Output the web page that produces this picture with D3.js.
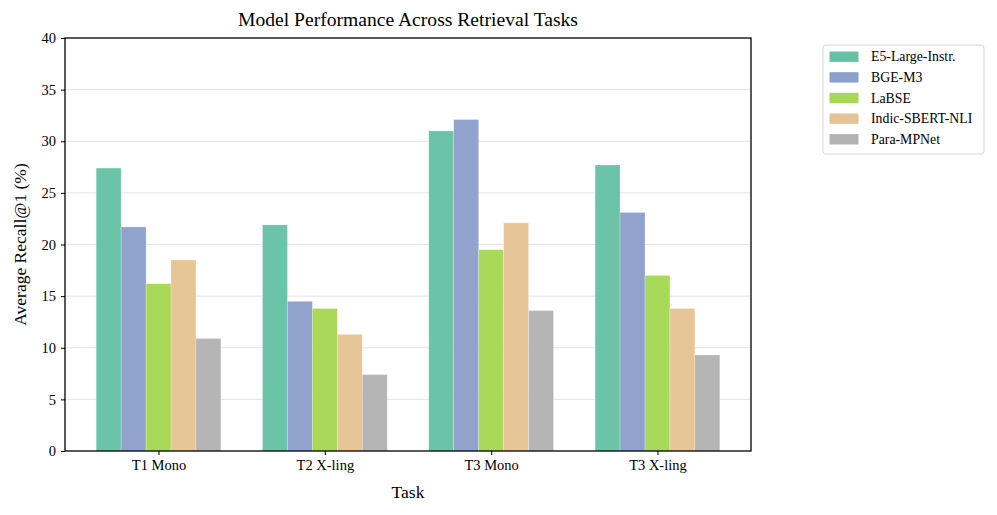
<!DOCTYPE html>
<html lang="en">
<head>
<meta charset="UTF-8" />
<title>Model Performance Across Retrieval Tasks</title>
<script src="https://d3js.org/d3.v7.min.js"></script>
<style>
  body { margin: 0; background: #fff; }
  svg { display: block; font-family: 'Liberation Serif', 'DejaVu Serif', serif; }
  .tick text { font-size: 14.5px; fill: #000; font-family: 'Liberation Serif', serif; }
  .grid line { stroke: #e3e3e3; stroke-width: 1; }
</style>
</head>
<body>
<svg width="997" height="515"></svg>
<script>
const tasks = ["T1 Mono", "T2 X-ling", "T3 Mono", "T3 X-ling"];
const models = ["E5-Large-Instr.", "BGE-M3", "LaBSE", "Indic-SBERT-NLI", "Para-MPNet"];
const colors = ["#66c2a5", "#8da0cb", "#a6d854", "#e5c494", "#b3b3b3"];
const e5 = [27.4, 21.9, 31.0, 27.7];
const bge = [21.7, 14.5, 32.1, 23.1];
const labse = [16.2, 13.8, 19.5, 17.0];
const indic = [18.5, 11.3, 22.1, 13.8];
const mpnet = [10.9, 7.4, 13.6, 9.3];
const yTicks = [0, 5, 10, 15, 20, 25, 30, 35, 40];

const series = [e5, bge, labse, indic, mpnet];
const svg = d3.select("svg");
const m = { left: 65, right: 751, top: 38, bottom: 451 };
const bw = 0.15;

const x = d3.scaleLinear().domain([-0.5625, 3.5625]).range([m.left, m.right]);
const y = d3.scaleLinear().domain([0, 40]).range([m.bottom, m.top]);

// grid
svg.append("g").attr("class", "grid")
  .selectAll("line").data(yTicks.slice(1, -1)).join("line")
  .attr("x1", m.left).attr("x2", m.right)
  .attr("y1", d => y(d)).attr("y2", d => y(d));

// bars
series.forEach((vals, j) => {
  svg.append("g").selectAll("rect").data(vals).join("rect")
    .attr("x", (d, i) => x(i + (j - 2) * bw - bw / 2))
    .attr("width", x(bw) - x(0))
    .attr("y", d => y(d))
    .attr("height", d => y(0) - y(d))
    .attr("fill", colors[j])
    .attr("fill-opacity", 0.97)
    .attr("stroke", "#fff").attr("stroke-opacity", 0.4).attr("stroke-width", 0.6);
});

// axes
svg.append("g").attr("transform", `translate(0,${m.bottom})`)
  .call(d3.axisBottom(x).tickValues(d3.range(tasks.length)).tickFormat(i => tasks[i]).tickSize(4).tickPadding(5))
  .call(g => g.select(".domain").remove());
svg.append("g").attr("transform", `translate(${m.left},0)`)
  .call(d3.axisLeft(y).tickValues(yTicks).tickSize(4).tickPadding(5))
  .call(g => g.select(".domain").remove());
svg.selectAll(".tick line").attr("stroke", "#000").attr("stroke-width", 1);

svg.append("rect")
  .attr("x", m.left).attr("y", m.top)
  .attr("width", m.right - m.left).attr("height", m.bottom - m.top)
  .attr("fill", "none").attr("stroke", "#000").attr("stroke-width", 1.3);

// titles
svg.append("text").attr("x", (m.left + m.right) / 2).attr("y", 26)
  .attr("text-anchor", "middle").attr("font-size", 19.6)
  .text("Model Performance Across Retrieval Tasks");
svg.append("text").attr("x", (m.left + m.right) / 2).attr("y", 498)
  .attr("text-anchor", "middle").attr("font-size", 17.5).text("Task");
svg.append("text")
  .attr("transform", `translate(26,${(m.top + m.bottom) / 2}) rotate(-90)`)
  .attr("text-anchor", "middle").attr("font-size", 17.5).text("Average Recall@1 (%)");

// legend
const lg = svg.append("g").attr("transform", "translate(823,45)");
lg.append("rect").attr("width", 161).attr("height", 109).attr("rx", 3)
  .attr("fill", "#fff").attr("stroke", "#d6d6d6").attr("stroke-width", 1);
models.forEach((name, j) => {
  const row = lg.append("g").attr("transform", `translate(0,${11.7 + j * 20.65})`);
  row.append("rect").attr("x", 6.5).attr("y", -5.2).attr("width", 29).attr("height", 10.4)
    .attr("fill", colors[j]);
  row.append("text").attr("x", 48).attr("y", 4.5).attr("font-size", 13.8).text(name);
});
</script>
</body>
</html>
